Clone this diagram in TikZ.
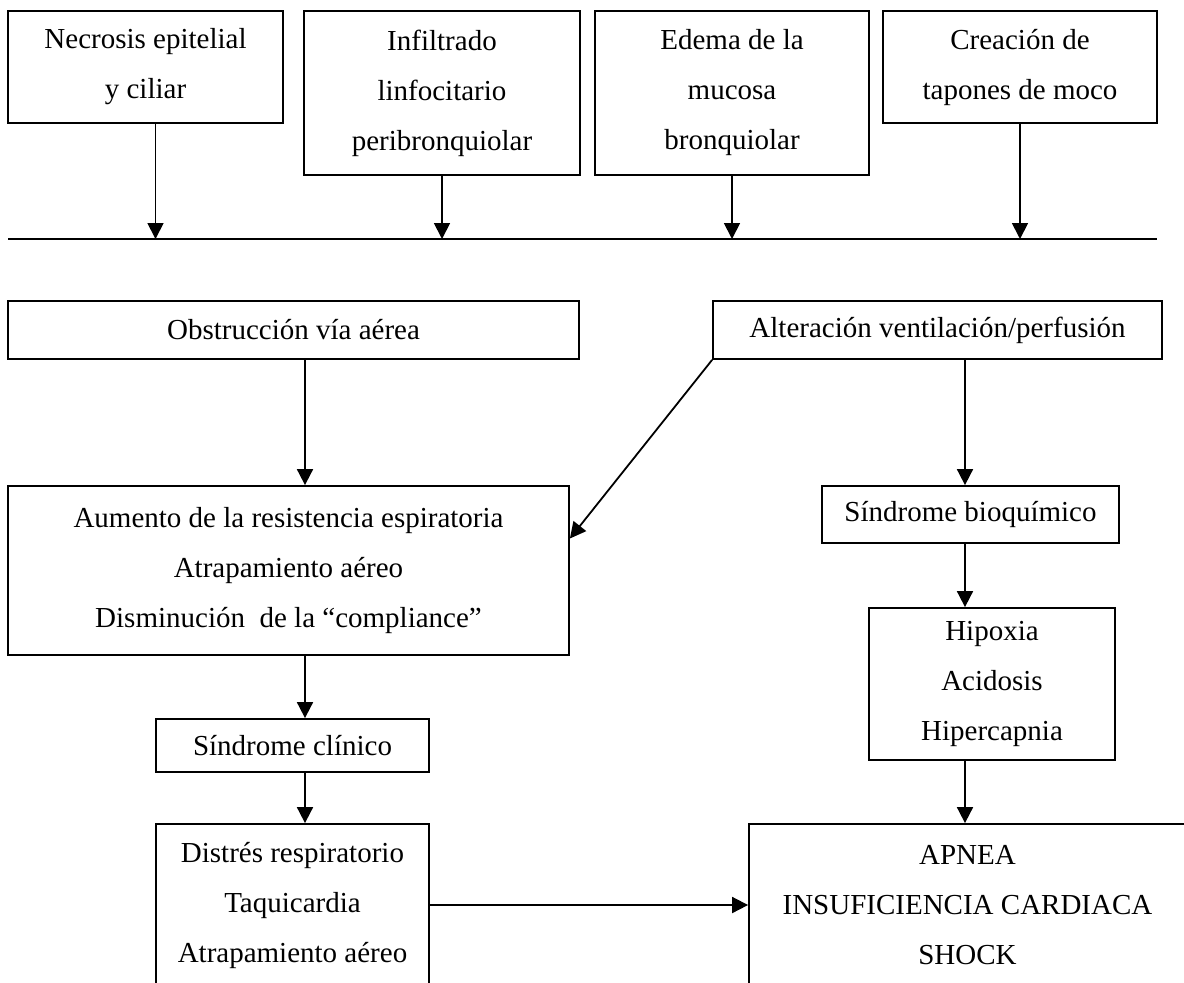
\documentclass[tikz,border=0pt]{standalone}
\usepackage{fontspec}
\setmainfont{Liberation Serif}
\usetikzlibrary{arrows.meta}

\begin{document}
\begin{tikzpicture}[x=0.5pt, y=-0.5pt, >={Triangle[length=8pt, width=8pt]},
  caja/.style={draw, line width=0.9pt, align=center, inner sep=0pt,
    font=\fontsize{14.5}{25}\selectfont},
  flecha/.style={->, line width=0.9pt}]

% Marco
\useasboundingbox (0,0) rectangle (1184,982);
\clip (0,0) rectangle (1184,982);

% Lesiones iniciales
\node[caja, minimum width=137.5pt, minimum height=56pt] (necrosis) at (145.5,67) {Necrosis epitelial\\y ciliar};
\node[caja, minimum width=138pt, minimum height=82pt] (infiltrado) at (442,93) {Infiltrado\\linfocitario\\peribronquiolar};
\node[caja, minimum width=137pt, minimum height=82pt] (edema) at (732,93) {Edema de la\\mucosa\\bronquiolar};
\node[caja, minimum width=137pt, minimum height=56pt] (tapones) at (1020,67) {Creación de\\tapones de moco};

% Linea comun
\coordinate (lineaIzq) at (8,239);
\coordinate (lineaDer) at (1157,239);
\draw[line width=0.9pt] (lineaIzq) -- (lineaDer);

\coordinate (n1) at ([xshift=5pt]necrosis.south);
\draw[flecha] (n1) -- (n1 |- lineaIzq);
\draw[flecha] (infiltrado.south) -- (infiltrado.south |- lineaIzq);
\draw[flecha] (edema.south) -- (edema.south |- lineaIzq);
\draw[flecha] (tapones.south) -- (tapones.south |- lineaIzq);

% Consecuencias
\node[caja, minimum width=285.5pt, minimum height=29pt] (obstruccion) at (293.5,330) {Obstrucción vía aérea};
\node[caja, minimum width=224.5pt, minimum height=29pt] (alteracion) at (937.5,330) {Alteración ventilación/perfusión};

\node[caja, minimum width=280.5pt, minimum height=84.5pt] (aumento) at (288.5,570.5) {Aumento de la resistencia espiratoria\\Atrapamiento aéreo\\Disminución\ \ de la “compliance”};
\node[caja, minimum width=148.5pt, minimum height=28.5pt] (bioquimico) at (970.5,514.5) {Síndrome bioquímico};

\node[caja, minimum width=136.5pt, minimum height=26.5pt] (clinico) at (292.5,745.5) {Síndrome clínico};
\node[caja, minimum width=123pt, minimum height=76pt] (hipoxia) at (992,684) {Hipoxia\\Acidosis\\Hipercapnia};

\node[caja, minimum width=136.5pt, minimum height=81pt] (distres) at (292.5,905) {Distrés respiratorio\\Taquicardia\\Atrapamiento aéreo};
\node[caja, minimum width=218.5pt, minimum height=81pt] (apnea) at (967.5,905) {APNEA\\INSUFICIENCIA CARDIACA\\SHOCK};

% Ejes de las flechas
\coordinate (ejeIzq) at (305,0);
\coordinate (ejeDer) at (965,0);

\draw[flecha] (obstruccion.south -| ejeIzq) -- (aumento.north -| ejeIzq);
\draw[flecha] (aumento.south -| ejeIzq) -- (clinico.north -| ejeIzq);
\draw[flecha] (clinico.south -| ejeIzq) -- (distres.north -| ejeIzq);

\draw[flecha] (alteracion.south -| ejeDer) -- (bioquimico.north -| ejeDer);
\draw[flecha] (bioquimico.south -| ejeDer) -- (hipoxia.north -| ejeDer);
\draw[flecha] (hipoxia.south -| ejeDer) -- (apnea.north -| ejeDer);

\draw[flecha] (alteracion.south west) -- ([yshift=16pt]aumento.east);
\draw[flecha] (distres.east) -- (apnea.west);

\end{tikzpicture}
\end{document}
